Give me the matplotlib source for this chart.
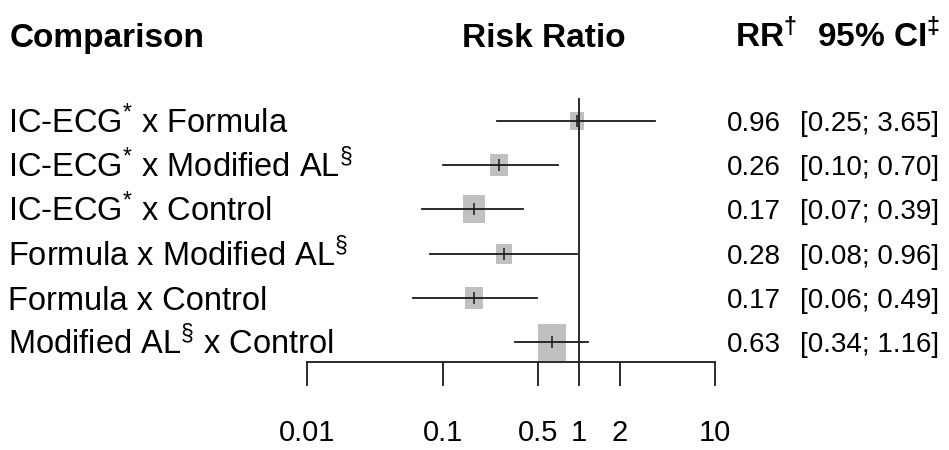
import matplotlib.pyplot as plt
import matplotlib.transforms as mtransforms
import numpy as np

plt.rcParams['font.family'] = ['Liberation Sans', 'DejaVu Sans']
plt.rcParams['mathtext.fontset'] = 'custom'
plt.rcParams['mathtext.rm'] = 'Liberation Sans'
plt.rcParams['mathtext.bf'] = 'Liberation Sans:bold'
plt.rcParams['mathtext.default'] = 'regular'

# forest plot data
comparisons = [r'IC-ECG$^{*}$ x Formula',
               r'IC-ECG$^{*}$ x Modified AL$^{§}$',
               r'IC-ECG$^{*}$ x Control',
               r'Formula x Modified AL$^{§}$',
               r'Formula x Control',
               r'Modified AL$^{§}$ x Control']
rr = [0.96, 0.26, 0.17, 0.28, 0.17, 0.63]
ci_low = [0.25, 0.10, 0.07, 0.08, 0.06, 0.34]
ci_high = [3.65, 0.70, 0.39, 0.96, 0.49, 1.16]
box_weight = [0.46, 0.62, 0.73, 0.54, 0.62, 1.0]   # relative box size
x_ticks = [0.01, 0.1, 0.5, 1, 2, 10]
x_tick_labels = ['0.01', '0.1', '0.5', '1', '2', '10']

W, H = 949, 450
fig = plt.figure(figsize=(W / 100, H / 100), dpi=100)
# axes spans 0.01..10 horizontally, top of ref line to the axis line
ax = fig.add_axes([307 / W, (H - 362) / H, (715 - 307) / W, (362 - 98) / H])
ax.set_xscale('log')
ax.set_xlim(0.01, 10)
ax.set_ylim(0.55, 6.52)

rows = np.arange(len(rr), 0, -1)
line_col = '#1a1a1a'

# rectangular box marker (a bit taller than wide)
box_marker = [(-0.39, -0.5), (0.39, -0.5), (0.39, 0.5), (-0.39, 0.5), (-0.39, -0.5)]
max_box = 37 * 72 / 100  # points

for y, est, lo, hi, wt in zip(rows, rr, ci_low, ci_high, box_weight):
    ax.plot([est], [y], marker=box_marker, markersize=max_box * wt,
            color='#c0c0c0', markeredgewidth=0, linestyle='none', zorder=2)
    ax.plot([lo, hi], [y, y], color=line_col, lw=1.3, zorder=3)
    ax.plot([est], [y], marker='|', markersize=9, markeredgewidth=1.1,
            color=line_col, linestyle='none', zorder=4)

ax.axvline(1, color=line_col, lw=1.3, zorder=3)

for s in ['top', 'right', 'left']:
    ax.spines[s].set_visible(False)
ax.spines['bottom'].set_color(line_col)
ax.spines['bottom'].set_linewidth(1.3)
ax.set_yticks([])
ax.set_xticks(x_ticks)
ax.set_xticklabels(x_tick_labels)
ax.minorticks_off()
ax.tick_params(axis='x', direction='out', length=17, width=1.3, color=line_col,
               pad=24, labelsize=21)


def text_row(x, y, s, size, **kw):
    # put the middle of the capital letters on the row
    tr = mtransforms.blended_transform_factory(fig.transFigure, ax.transData)
    tr = mtransforms.offset_copy(tr, fig=fig, y=-0.358 * size, units='points')
    ax.text(x, y, s, transform=tr, va='baseline', fontsize=size, **kw)


for y, lab, est, lo, hi in zip(rows, comparisons, rr, ci_low, ci_high):
    text_row(8 / W, y, lab, 23.5, ha='left')
    text_row(781 / W, y, f'{est:.2f}', 20, ha='right')
    text_row(800 / W, y, f'[{lo:.2f}; {hi:.2f}]', 20, ha='left')

# header row, caps centred at y = 35 px
hy = 1 - 35 / H
htr = mtransforms.offset_copy(fig.transFigure, fig=fig, y=-0.358 * 24, units='points')
hkw = dict(va='baseline', fontsize=24, fontweight='bold', transform=htr)
fig.text(10 / W, hy, 'Comparison', ha='left', **hkw)
fig.text(544 / W, hy, 'Risk Ratio', ha='center', **hkw)
fig.text(735 / W, hy, r'RR$^{†}$', ha='left', **hkw)
fig.text(817 / W, hy, r'95% CI$^{‡}$', ha='left', **hkw)

fig.savefig('out.png', dpi=100, facecolor='white')
